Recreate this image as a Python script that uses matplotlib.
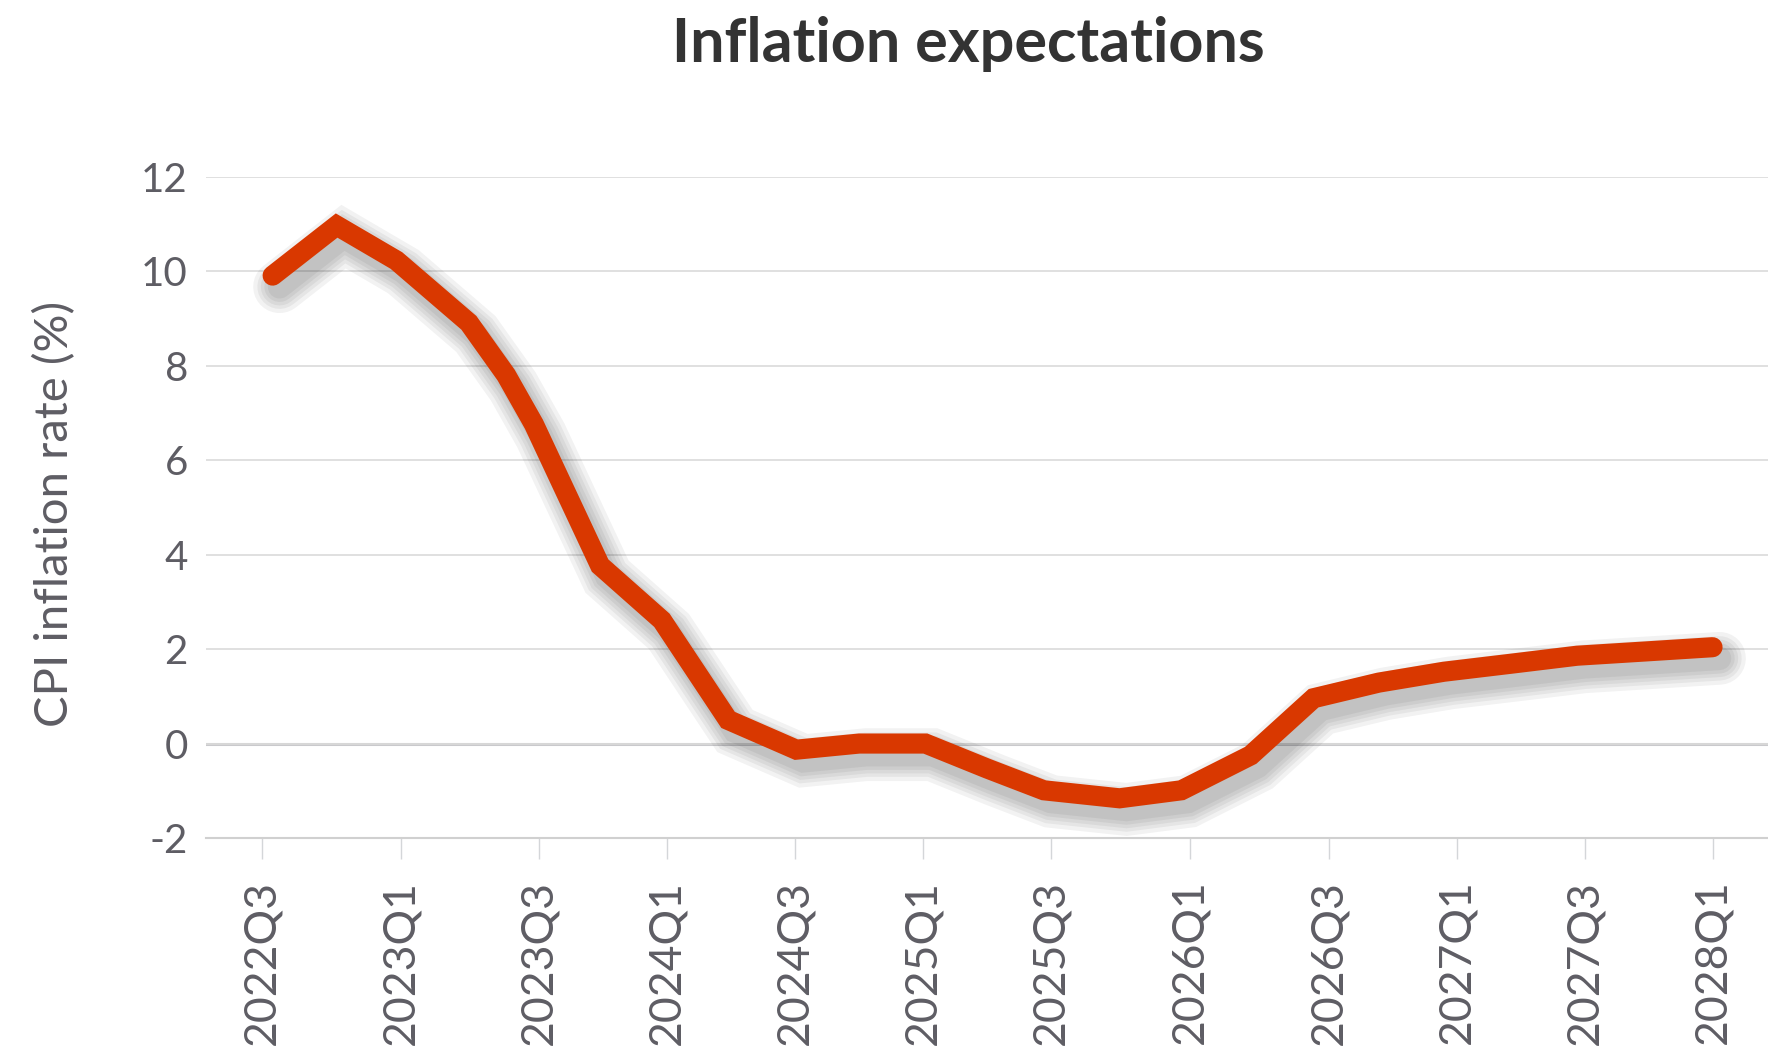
"""
Inflation expectations line chart.
"""
import matplotlib
matplotlib.use("Agg")
import matplotlib.pyplot as plt
import matplotlib.patheffects as pe

# x positions on the chart's category scale, CPI in %
x_pos = [1, 7, 12.6, 19.4, 22.9, 25.5, 31.7, 37.5, 43.7, 50.1, 56, 62.2, 68,
         73.3, 80.4, 86.2, 92.7, 98.6, 104.7, 110.8, 117.1, 123.3, 129.7, 136]
cpi = [9.91, 10.97, 10.23, 8.91, 7.80, 6.76, 3.77, 2.61, 0.50, -0.13, 0.0, 0.0, -0.53,
       -0.99, -1.16, -0.99, -0.25, 0.96, 1.29, 1.52, 1.69, 1.86, 1.95, 2.04]

tick_pos = [0, 13, 26, 38, 50, 62, 74, 87, 100, 112, 124, 136]
tick_labels = ["2022Q3", "2023Q1", "2023Q3", "2024Q1", "2024Q3", "2025Q1",
               "2025Q3", "2026Q1", "2026Q3", "2027Q1", "2027Q3", "2028Q1"]
y_ticks = [-2, 0, 2, 4, 6, 8, 10, 12]

LINE = "#D93800"
TEXT = "#5E5D64"
GRID = "#DADADA"

plt.rcParams["font.family"] = ["Lato", "DejaVu Sans"]

fig = plt.figure(figsize=(17.68, 10.53), dpi=100, facecolor="white")
ax = fig.add_axes([0.1165, 0.2042, 0.8835, 0.6278])

shadow = [pe.SimpleLineShadow(offset=(5, -8), shadow_color="black", alpha=0.05, linewidth=w)
          for w in (38, 32, 27, 22, 17)]
ax.plot(x_pos, cpi, color=LINE, linewidth=14.5, solid_joinstyle="miter",
        solid_capstyle="round", zorder=3, path_effects=shadow + [pe.Normal()])

ax.set_ylim(-2, 12)
ax.set_yticks(y_ticks)
ax.set_yticklabels([str(v) for v in y_ticks], fontsize=29, color=TEXT)
ax.set_xlim(-5.25, 141.2)
ax.set_xticks(tick_pos)
ax.set_xticklabels(tick_labels, rotation=90, fontsize=32, color=TEXT)

ax.grid(axis="y", color=GRID, linewidth=1.2, zorder=0)
ax.axhline(0, color="#C9C9CC", linewidth=2.2, zorder=1)
for s in ["top", "right", "left"]:
    ax.spines[s].set_visible(False)
ax.spines["bottom"].set_color("#D0D0D0")
ax.spines["bottom"].set_linewidth(1.5)
ax.tick_params(axis="y", length=0, pad=13)
ax.tick_params(axis="x", length=15, width=1, color="#D4D6D9", pad=15)

ax.set_ylabel("CPI inflation rate (%)", fontsize=34, color=TEXT)
ax.yaxis.set_label_coords(-0.083, 0.49)
fig.text(0.548, 0.958, "Inflation expectations", ha="center", va="center",
         fontsize=44, fontweight="bold", color="#333333")

fig.savefig("out.png", dpi=100, facecolor="white")
plt.close(fig)
